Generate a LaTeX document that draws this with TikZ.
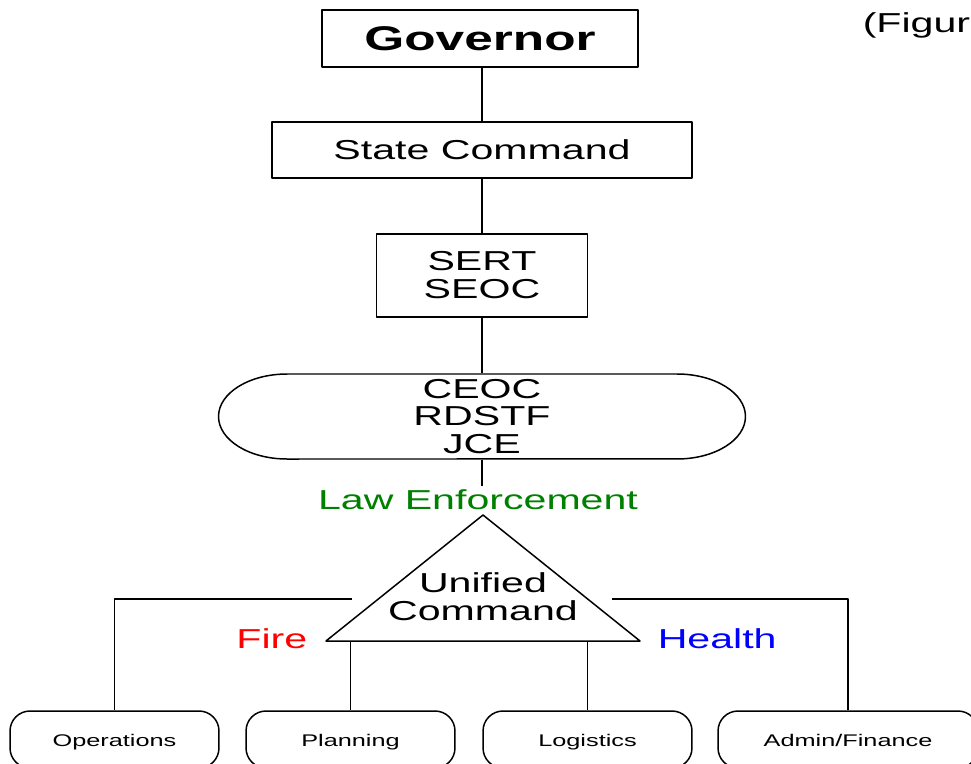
\documentclass[tikz,border=0pt]{standalone}
\usepackage{fontspec}
\setmainfont{Liberation Sans}
\newfontfamily\wide[FakeStretch=1.5]{Liberation Sans}
\usepackage{tikz}
\definecolor{lawgreen}{RGB}{0,128,0}

\begin{document}
\begin{tikzpicture}[x=0.02cm,y=-0.02cm,line width=0.85pt,line join=round,
        txt/.style={font=\wide\fontsize{15.6}{15.9}\selectfont,align=center},
        box/.style={draw,txt,inner sep=0pt},
        unit/.style={draw,rounded corners=0.4cm,minimum width=4.18cm,minimum height=1.14cm,inner sep=0pt,text height=1.6ex,text depth=0.1ex,font=\wide\fontsize{9.6}{11}\selectfont}]
            \useasboundingbox (0,0) rectangle (971,764);
            \node[box,minimum width=6.32cm,minimum height=1.14cm,font=\wide\bfseries\fontsize{19.5}{22}\selectfont] (gov) at (480,38.5) {Governor};
            \node[txt,anchor=west,inner sep=0pt] (fig) at (862,25) {(Figur};
            \node[box,minimum width=8.4cm,minimum height=1.12cm] (state) at (482,150) {State Command};
            \node[box,minimum width=4.22cm,minimum height=1.66cm] (sert) at (482,275.5) {SERT\\SEOC};
            \node[txt,minimum width=10.54cm,minimum height=1.7cm,inner sep=0pt] (ceoc) at (482,416.5) {CEOC\\RDSTF\\JCE};
            \draw (287,374) -- (677,374) arc[start angle=90,end angle=-90,x radius=1.37cm,y radius=0.85cm] -- (287,459) arc[start angle=270,end angle=90,x radius=1.37cm,y radius=0.85cm] -- cycle;
            \node[txt,lawgreen,inner sep=2pt] (law) at (478,500) {Law Enforcement};
            \coordinate (apex) at (483,515);
            \coordinate (baseL) at (326,641);
            \coordinate (baseR) at (640,641);
            \draw (apex) -- (baseL) -- (baseR) -- cycle;
            \node[txt] (uc) at (483,597) {Unified\\Command};
            \node[txt,red,anchor=east,inner sep=0pt] (fire) at (308,639) {Fire};
            \node[txt,blue,anchor=west,inner sep=0pt] (health) at (657,639) {Health};
            \node[unit] (ops) at (114.5,739.5) {Operations};
            \node[unit] (plan) at (350.5,739.5) {Planning};
            \node[unit] (logi) at (587.5,739.5) {Logistics};
            \node[unit,minimum width=5.2cm] (adm) at (848,739.5) {Admin/Finance};
            \draw (state.north) -- (state.north |- gov.south);
            \draw (state) -- (sert);
            \draw (sert) -- (ceoc);
            \draw (ceoc.south) -- (ceoc.south |- law.north);
            \coordinate (ucL) at (352,599);
            \coordinate (ucR) at (612,599);
            \draw (ucL) -| (ops);
            \draw (ucR) -| (adm);
            \draw (plan.north |- baseL) -- (plan.north);
            \draw (logi.north |- baseL) -- (logi.north);
        \end{tikzpicture}
\end{document}
